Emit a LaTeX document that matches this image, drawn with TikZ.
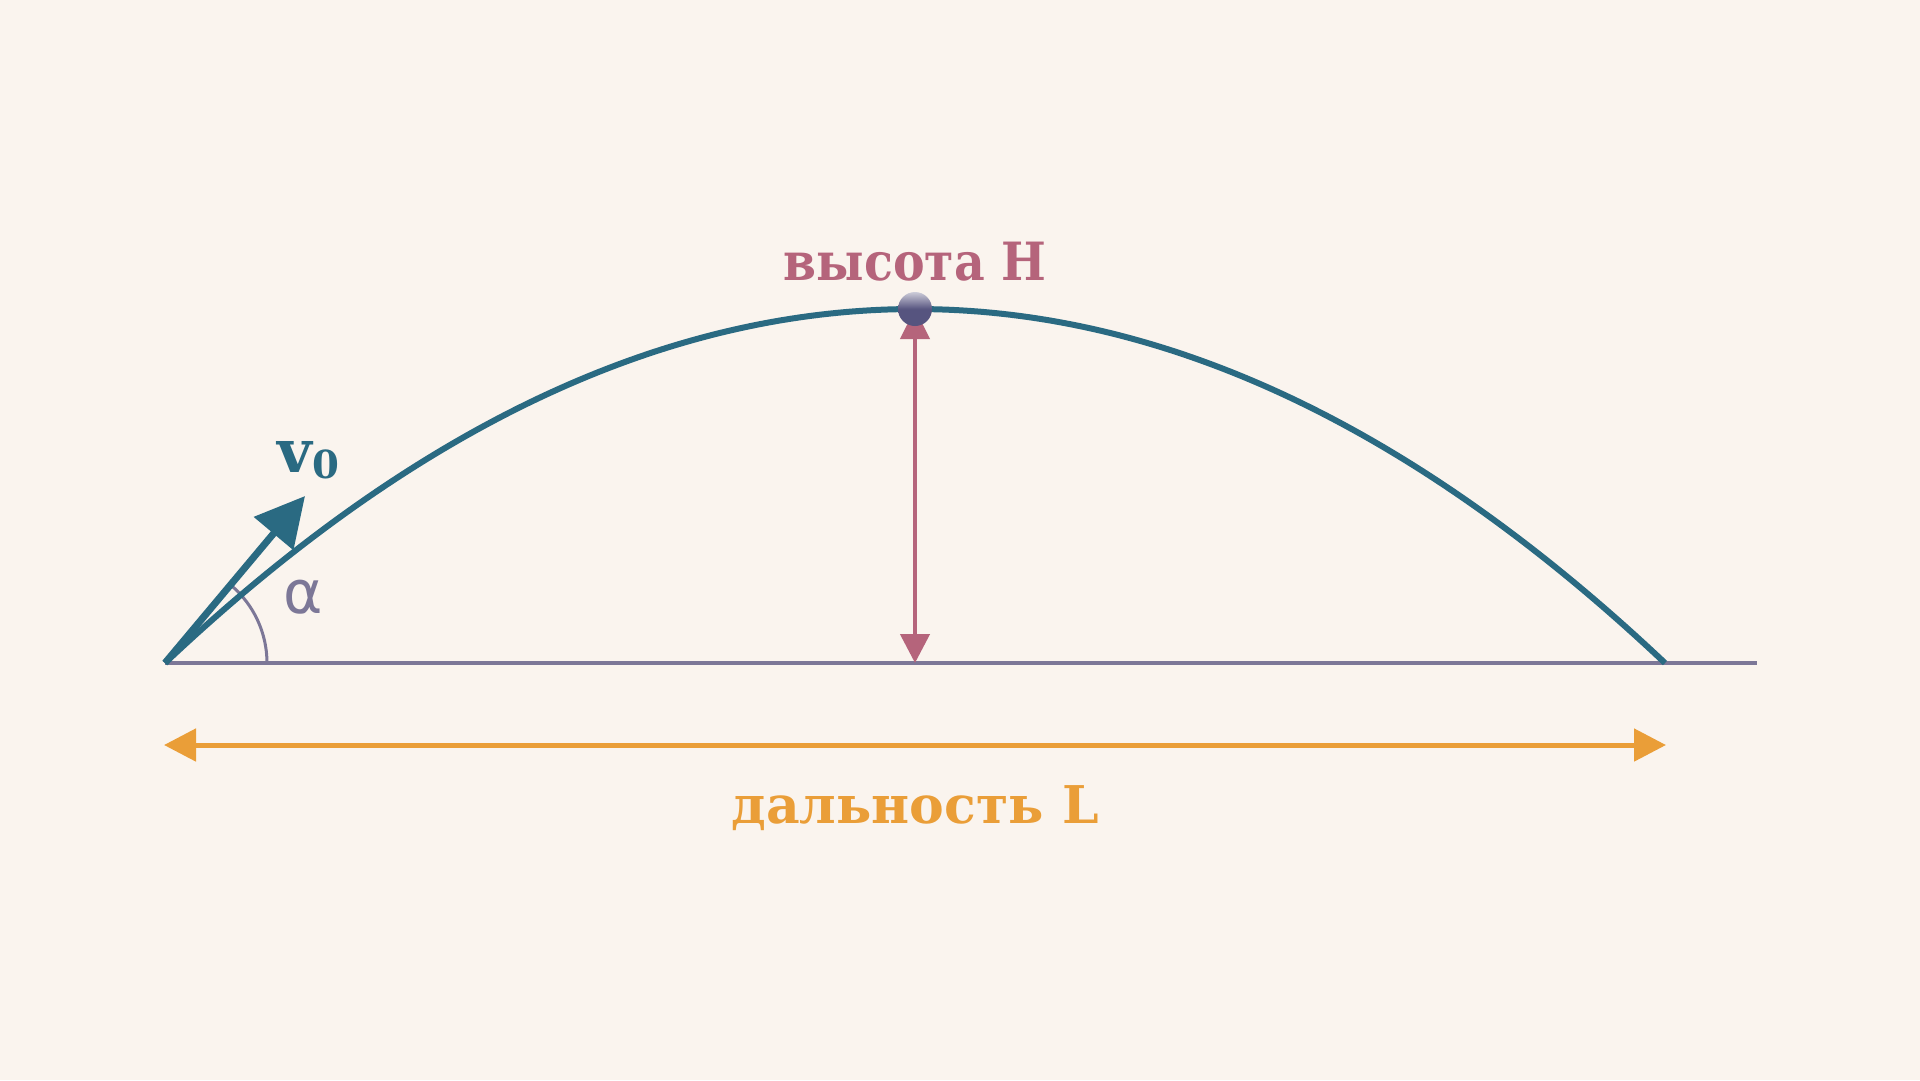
\documentclass[tikz,border=0pt]{standalone}
\usepackage{fontspec}
\setmainfont{DejaVu Serif}
\newfontfamily\condfont{DejaVu Serif Condensed}
\newfontfamily\alphafont{DejaVu Sans}
\usetikzlibrary{arrows.meta}
\definecolor{bg}{HTML}{FAF4EE}
\definecolor{traj}{HTML}{2A6A82}
\definecolor{hcol}{HTML}{B5647B}
\definecolor{lcol}{HTML}{EA9E38}
\definecolor{gnd}{HTML}{7C7797}
\definecolor{ballc}{HTML}{56547F}

\begin{document}
\begin{tikzpicture}[x=0.1mm,y=-0.1mm,
    lbl/.style={font=\bfseries\fontsize{14.8pt}{18pt}\selectfont, anchor=base, inner sep=0pt}]
\fill[bg] (0,0) rectangle (1920,1080);
\coordinate (o) at (165,663);
\coordinate (gend) at (1757,663);
\coordinate (top) at (915,309);
\coordinate (foot) at (915,663);
\coordinate (v) at (305,496);
\coordinate (la) at (164,745);
\coordinate (lb) at (1666,745);
% ground and angle
\draw[gnd, line width=0.33mm] (o) -- (gend);
\draw[gnd, line width=0.3mm] (267,663) arc[start angle=0, end angle=50, radius=10.2mm];
% trajectory
\draw[traj, line width=0.6mm] plot[domain=165:1665, samples=150] (\x, {309+354*((\x-915)/750)^2});
\draw[traj, line width=0.7mm, -{Triangle[length=4.9mm,width=5mm]}] (o) -- (v);
% height and range
\draw[hcol, line width=0.45mm, {Triangle[length=3mm,width=2.9mm]}-{Triangle[length=2.9mm,width=2.9mm]}] (top) -- (foot);
\draw[lcol, line width=0.5mm, {Triangle[length=3.2mm,width=3.2mm]}-{Triangle[length=3.2mm,width=3.2mm]}] (la) -- (lb);
\node[circle, inner sep=0pt, minimum size=3.4mm, top color=ballc!30!white, bottom color=ballc, middle color=ballc] (ball) at (top) {};
% labels
\node[lbl, hcol, font=\condfont\bfseries\fontsize{15pt}{18pt}\selectfont] (hl) at (915,280) {высота H};
\node[lbl, lcol] (ll) at (915,823) {дальность L};
\node[traj, anchor=base west, inner sep=0pt, font=\bfseries] (vl) at (277,472)
    {\fontsize{17pt}{20pt}\selectfont v\raisebox{-0.6mm}{\fontsize{11pt}{13pt}\selectfont 0}};
\node[gnd, inner sep=0pt, font=\alphafont\fontsize{17pt}{20pt}\selectfont] (al) at (303,597) {α};
\end{tikzpicture}
\end{document}
